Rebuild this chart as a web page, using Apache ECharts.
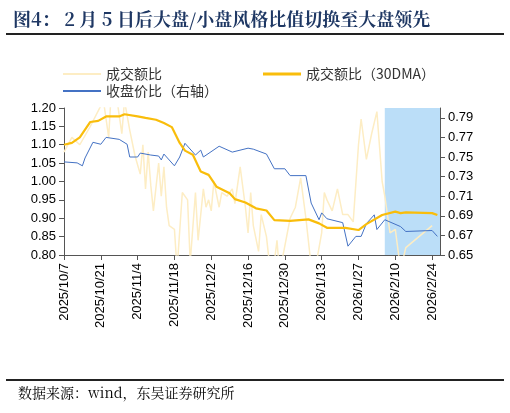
<!DOCTYPE html>
<html><head><meta charset="utf-8">
<script src="https://cdn.jsdelivr.net/npm/echarts@6/dist/echarts.min.js"></script>
<style>html,body{margin:0;padding:0;background:#fff}#c{width:510px;height:413px}</style>
</head><body><div id="c"></div>
<script>
// 天数偏移：以 2025/10/7 为第 0 天
const baseDate = new Date(2025, 9, 7);
const maDays = [0,3,6,10,13,16,21,23,28,31,35,38,41,44,46,49,52,55,58,63,65,69,73,77,80,86,93,97,100,107,112,115,121,126,128,130,140,142];
const maValues = [1.100,1.105,1.120,1.162,1.165,1.177,1.177,1.183,1.177,1.173,1.168,1.159,1.148,1.105,1.084,1.073,1.027,1.018,0.986,0.968,0.952,0.943,0.927,0.921,0.895,0.893,0.897,0.886,0.874,0.874,0.868,0.884,0.909,0.918,0.914,0.916,0.914,0.909];
const priceDays = [0,5,7,8,11,14,16,21,24,25,28,29,33,36,37,38,42,44,46,50,52,53,59,64,70,72,77,80,84,86,92,94,97,98,100,106,108,111,113,115,118,119,122,128,130,140,142];
const priceValues = [0.745,0.744,0.741,0.749,0.765,0.763,0.770,0.768,0.763,0.750,0.750,0.754,0.752,0.751,0.747,0.753,0.741,0.750,0.764,0.752,0.757,0.750,0.761,0.755,0.759,0.758,0.753,0.738,0.738,0.731,0.731,0.703,0.686,0.693,0.687,0.683,0.659,0.669,0.669,0.682,0.691,0.676,0.686,0.679,0.674,0.675,0.669];
const rawDays = [0,3,6,10,15,17,18,20,22,23,25,27,29,30,31,32,33,34,36,37,38,39,40,42,43,45,47,48,50,51,53,54,55,56,57,59,60,62,64,65,67,69,70,71,72,74,75,77,79,81,82,86,88,90,92,94,96,98,99,100,102,104,106,108,110,112,113,115,117,119,121,122,124,126,128,130,140];
const rawValues = [1.08,1.12,1.10,1.15,1.22,1.12,1.25,1.23,1.13,1.22,1.14,1.07,1.02,1.10,0.98,1.08,0.99,0.92,1.05,0.96,1.04,0.93,0.88,0.87,0.76,0.97,0.95,0.78,0.97,0.84,0.98,0.93,0.95,0.92,1.00,0.93,0.97,0.96,0.98,0.94,1.04,0.93,0.86,0.97,0.88,0.81,0.91,0.85,0.72,0.84,0.75,0.90,0.93,1.01,0.90,0.77,0.78,0.86,0.97,0.95,0.92,0.98,0.91,0.91,0.89,1.10,1.17,1.06,1.13,1.19,1.00,0.96,0.86,0.87,0.76,0.82,0.88];
const shadeRange = [122, 143];

function dayLabel(d) {
    const t = new Date(baseDate.getTime() + d * 86400000);
    return t.getFullYear() + '/' + (t.getMonth() + 1) + '/' + t.getDate();
}
const pair = (ds, vs) => ds.map((d, i) => [d, vs[i]]);
const font = 'Liberation Sans, Arial, sans-serif';
const cjk = 'Noto Sans CJK SC';

const chart = echarts.init(document.getElementById('c'));
chart.setOption({
    animation: false,
    backgroundColor: '#fff',
    title: {
        text: '图4： 2 月 5 日后大盘/小盘风格比值切换至大盘领先', left: 8, top: 5,
        textStyle: { color: '#1f3864', fontSize: 18, fontWeight: 'bold', fontFamily: 'Noto Serif CJK SC, ' + cjk }
    },
    legend: [
        { data: ['成交额比', '收盘价比（右轴）'], orient: 'vertical', left: 58, top: 62, itemGap: 3, itemWidth: 38, itemHeight: 2,
          textStyle: { fontFamily: cjk, fontSize: 14, color: '#333' }, icon: 'rect' },
        { data: ['成交额比（30DMA）'], left: 258, top: 62, itemWidth: 38, itemHeight: 3,
          textStyle: { fontFamily: cjk, fontSize: 14, color: '#333' }, icon: 'rect' }
    ],
    grid: { left: 64, right: 70, top: 108, bottom: 158 },
    xAxis: {
        type: 'value', min: 0, max: 143, interval: 14,
        axisLine: { lineStyle: { color: '#555' } }, axisTick: { lineStyle: { color: '#555' } },
        splitLine: { show: false },
        axisLabel: { rotate: 90, color: '#000', fontFamily: font, fontSize: 13, formatter: v => v <= 140 ? dayLabel(v) : '', showMaxLabel: false }
    },
    yAxis: [
        { type: 'value', min: 0.8, max: 1.2, interval: 0.05,
          axisLine: { show: true, lineStyle: { color: '#555' } }, axisTick: { show: true, lineStyle: { color: '#555' } },
          splitLine: { show: false },
          axisLabel: { color: '#000', fontFamily: font, fontSize: 13, formatter: v => v.toFixed(2) } },
        { type: 'value', min: 0.65, max: 0.80, interval: 0.02,
          axisLine: { show: true, lineStyle: { color: '#555' } }, axisTick: { show: true, lineStyle: { color: '#555' } },
          splitLine: { show: false },
          axisLabel: { color: '#000', fontFamily: font, fontSize: 13, showMaxLabel: false,
                       formatter: v => v > 0.795 ? '' : v.toFixed(2) } }
    ],
    series: [
        { name: '成交额比', type: 'line', data: pair(rawDays, rawValues), symbol: 'none', clip: true,
          lineStyle: { color: '#fdedc4', width: 1.5 }, itemStyle: { color: '#fdedc4' }, z: 1 },
        { name: '成交额比（30DMA）', type: 'line', data: pair(maDays, maValues), symbol: 'none',
          lineStyle: { color: '#f9bd0b', width: 2.2 }, itemStyle: { color: '#f9bd0b' }, z: 3 },
        { name: '收盘价比（右轴）', type: 'line', yAxisIndex: 1, data: pair(priceDays, priceValues), symbol: 'none',
          lineStyle: { color: '#4472c4', width: 1 }, itemStyle: { color: '#4472c4' }, z: 2 },
        { name: 'shade', type: 'line', data: [], z: 10,
          markArea: { silent: true, itemStyle: { color: 'rgba(150,205,245,0.65)' },
                      data: [[{ xAxis: shadeRange[0] }, { xAxis: shadeRange[1] }]] } }
    ],
    graphic: [
        { type: 'rect', shape: { x: 6, y: 33, width: 498, height: 2 }, style: { fill: '#222' } },
        { type: 'rect', shape: { x: 6, y: 379, width: 498, height: 2 }, style: { fill: '#222' } },
        { type: 'text', left: 18, top: 386, style: { text: '数据来源：wind，东吴证券研究所', fill: '#000', font: '14px "Noto Serif CJK SC", "Noto Sans CJK SC"' } }
    ]
});
</script></body></html>
